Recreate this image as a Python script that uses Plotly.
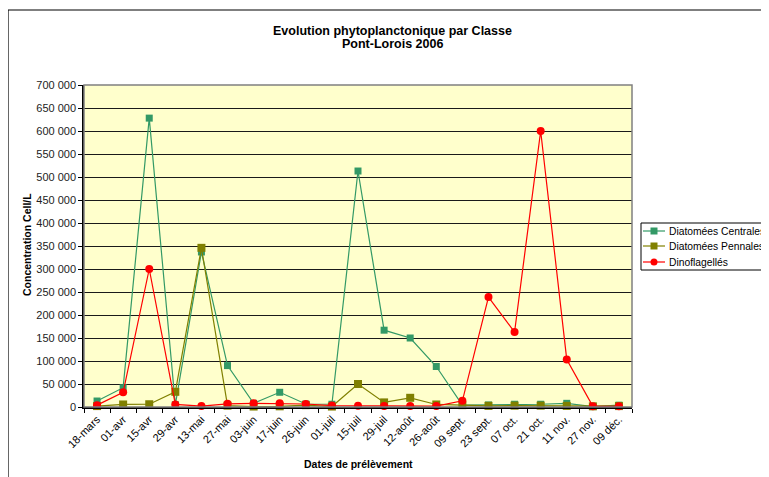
import plotly.graph_objects as go

dates = ["18-mars", "01-avr", "15-avr", "29-avr", "13-mai", "27-mai", "03-juin",
         "17-juin", "26-juin", "01-juil", "15-juil", "29-juil", "12-août", "26-août",
         "09 sept.", "23 sept.", "07 oct.", "21 oct.", "11 nov.", "27 nov.", "09 déc."]

diatomees_centrales = [13000, 42000, 628000, 5000, 337000, 90000, 8000, 32000, 6500, 6000,
                       513000, 167000, 150000, 88000, 4000, 4500, 6000, 6000, 8000, 1000, 4000]
diatomees_pennales = [2000, 5500, 6000, 33000, 346000, 3000, 1000, 1500, 4000, 1000,
                      50000, 10000, 20000, 5500, 4000, 2500, 3000, 3000, 2500, 1500, 2000]
dinoflagelles = [4000, 32000, 300000, 5500, 2000, 7000, 8000, 8000, 6500, 3000,
                 2500, 2000, 2000, 2000, 13500, 239000, 163000, 600000, 103000, 1500, 1500]

series_names = ["Diatomées Centrales", "Diatomées Pennales", "Dinoflagellés"]
series_values = [diatomees_centrales, diatomees_pennales, dinoflagelles]
series_colors = ["#339966", "#808000", "#FF0000"]
series_symbols = ["square", "square", "circle"]
series_sizes = [7, 8, 8]

y_ticks = list(range(0, 700001, 50000))

FONT = "Liberation Sans, Arial, sans-serif"

# The page body has an 8px margin, so the figure starts at (8, 8) in the window.
OFF = 8
W, H = 769 - OFF, 477 - OFF
# plot area in reference (window) pixels
PL, PR, PT, PB = 84, 632, 85, 407


def px(x):
    return (x - PL) / (PR - PL)


def py(y):
    return (PB - y) / (PB - PT)


fig = go.Figure()
for name, vals, col, sym, sz in zip(series_names, series_values, series_colors,
                                    series_symbols, series_sizes):
    fig.add_trace(go.Scatter(
        x=dates, y=vals, name=name, mode="lines+markers",
        line=dict(color=col, width=1.2),
        marker=dict(color=col, symbol=sym, size=sz, line=dict(width=0)),
        cliponaxis=False, showlegend=False,
    ))

shapes = []
annotations = []

# outer chart frame
shapes.append(dict(type="rect", xref="paper", yref="paper",
                   x0=px(8), x1=px(800), y0=py(500), y1=py(10),
                   line=dict(color="black", width=1.2), layer="above"))
# plot area gray border (top/right)
shapes.append(dict(type="rect", xref="paper", yref="paper",
                   x0=0, x1=1, y0=0, y1=1,
                   line=dict(color="#808080", width=1.5), layer="above"))

# title
annotations.append(dict(xref="paper", yref="paper", x=px(392), y=py(31),
                        text="<b>Evolution phytoplanctonique par Classe</b>",
                        showarrow=False, xanchor="center", yanchor="middle",
                        font=dict(family=FONT, size=12.5, color="black")))
annotations.append(dict(xref="paper", yref="paper", x=px(392), y=py(44),
                        text="<b>Pont-Lorois 2006</b>",
                        showarrow=False, xanchor="center", yanchor="middle",
                        font=dict(family=FONT, size=12.5, color="black")))
# axis titles
annotations.append(dict(xref="paper", yref="paper", x=px(27), y=py(245),
                        text="<b>Concentration Cell/L</b>", textangle=-90,
                        showarrow=False, xanchor="center", yanchor="middle",
                        font=dict(family=FONT, size=10.5, color="black")))
annotations.append(dict(xref="paper", yref="paper", x=px(358), y=py(464),
                        text="<b>Dates de prélèvement</b>",
                        showarrow=False, xanchor="center", yanchor="middle",
                        font=dict(family=FONT, size=10.5, color="black")))

# custom legend
shapes.append(dict(type="rect", xref="paper", yref="paper",
                   x0=px(641), x1=px(768), y0=py(270), y1=py(223),
                   line=dict(color="black", width=1), fillcolor="white", layer="above"))
legend_rows = [231, 246, 262]
for name, col, sym, ly in zip(series_names, series_colors, series_symbols, legend_rows):
    shapes.append(dict(type="line", xref="paper", yref="paper",
                       x0=px(643), x1=px(665), y0=py(ly), y1=py(ly),
                       line=dict(color=col, width=1.2), layer="above"))
    shapes.append(dict(type="rect" if sym == "square" else "circle",
                       xref="paper", yref="paper",
                       xsizemode="pixel", ysizemode="pixel",
                       xanchor=px(654), yanchor=py(ly),
                       x0=-3.5, x1=3.5, y0=-3.5, y1=3.5,
                       fillcolor=col, line=dict(width=0), layer="above"))
    annotations.append(dict(xref="paper", yref="paper", x=px(667), y=py(ly),
                            text=name, showarrow=False, xanchor="left", yanchor="middle",
                            font=dict(family=FONT, size=10.3, color="black")))

fig.update_layout(
    width=W, height=H,
    margin=dict(l=PL - OFF, r=W - (PR - OFF), t=PT - OFF, b=H - (PB - OFF),
                autoexpand=False),
    paper_bgcolor="white", plot_bgcolor="#FFFFCC",
    separators=", ",
    font=dict(family=FONT, size=11, color="black"),
    shapes=shapes, annotations=annotations,
    showlegend=False,
    xaxis=dict(
        type="category", categoryorder="array", categoryarray=dates,
        range=[-0.5, len(dates) - 0.5],
        tickmode="array", tickvals=dates, ticktext=dates,
        tickangle=-45, tickson="boundaries",
        ticks="outside", ticklen=4, tickcolor="black", tickwidth=1,
        showline=True, linecolor="black", linewidth=1.5,
        showgrid=False, zeroline=False,
        tickfont=dict(family=FONT, size=11, color="black"),
    ),
    yaxis=dict(
        range=[0, 700000], tickvals=y_ticks, tickformat=",d",
        ticks="outside", ticklen=4, tickcolor="black", tickwidth=1,
        showline=True, linecolor="black", linewidth=1.5,
        showgrid=True, gridcolor="#1a1a1a", gridwidth=1,
        zeroline=False,
        tickfont=dict(family=FONT, size=11, color="#222222"),
    ),
)

fig.write_html("out.html")
